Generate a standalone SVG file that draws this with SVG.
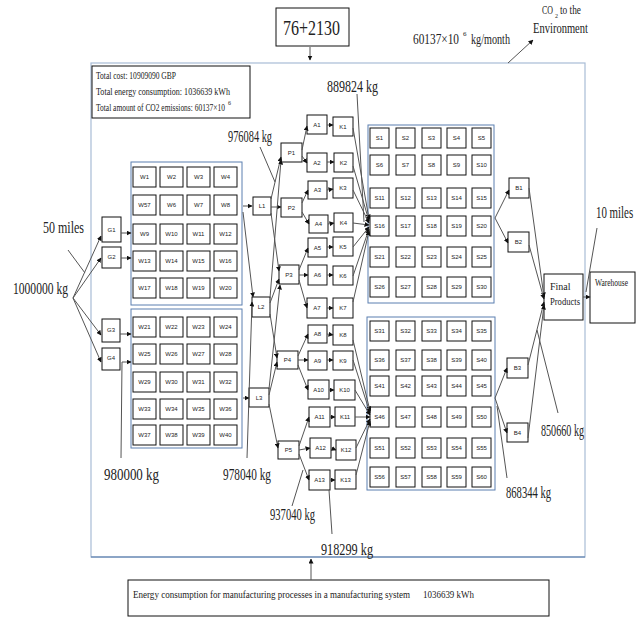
<svg xmlns="http://www.w3.org/2000/svg" width="641" height="618" viewBox="0 0 641 618">
<defs>
<marker id="ah" viewBox="0 0 10 10" refX="9" refY="5" markerWidth="5" markerHeight="5" orient="auto" markerUnits="userSpaceOnUse">
<path d="M0,0 L10,5 L0,10 z" fill="#111"/>
</marker>
</defs>
<style>
.n rect{fill:#fff;stroke:#111;stroke-width:1}
.n text{font-family:"Liberation Sans Narrow","Liberation Sans",Arial,sans-serif;font-size:6px;fill:#222;text-anchor:middle}
.grp{fill:none;stroke:#5b7fb0;stroke-width:1}
.main{fill:none;stroke:#a8bcd6;stroke-width:1.2}
.c line{stroke:#555;stroke-width:1;fill:none}
.c .a{marker-end:url(#ah)}
.lbl{font-family:"Liberation Serif","Times New Roman",serif;font-size:17px;fill:#222}
.sm{font-family:"Liberation Serif","Times New Roman",serif;font-size:9px;fill:#222}
.box{fill:#fff;stroke:#111;stroke-width:1}
</style>
<rect width="641" height="618" fill="#fff"/>
<rect class="main" x="91" y="63" width="494" height="494"/>
<line x1="91" y1="557" x2="585" y2="557" stroke="#4f74a6" stroke-width="1.2"/>

<g id="topbox"><rect class="box" x="276" y="8" width="73" height="38"/><text class="lbl" x="283" y="35" style="font-size:22px" textLength="57" lengthAdjust="spacingAndGlyphs">76+2130</text></g>

<g id="info"><rect class="box" x="92" y="66" width="158" height="52"/>
<text class="sm" x="96" y="79" style="font-size:10px" textLength="80" lengthAdjust="spacingAndGlyphs">Total cost: 10909090 GBP</text>
<text class="sm" x="96" y="95" style="font-size:10px" textLength="134" lengthAdjust="spacingAndGlyphs">Total energy consumption: 1036639 kWh</text>
<text class="sm" x="96" y="111" style="font-size:10px" textLength="129" lengthAdjust="spacingAndGlyphs">Total amount of CO2 emissions: 60137×10</text>
<text class="sm" x="228" y="105" style="font-size:6px">6</text>
</g>

<g id="energy"><rect class="box" x="128" y="580" width="421" height="36"/>
<text class="sm" x="133" y="598" style="font-size:10px" textLength="277" lengthAdjust="spacingAndGlyphs">Energy consumption for manufacturing processes in a manufacturing system</text>
<text class="sm" x="423" y="598" style="font-size:10px" textLength="51" lengthAdjust="spacingAndGlyphs">1036639 kWh</text>
</g>

<g id="env">
<text class="lbl" x="542" y="14" style="font-size:12px" textLength="11" lengthAdjust="spacingAndGlyphs">CO</text>
<text class="lbl" x="555" y="18" style="font-size:6px">2</text>
<text class="lbl" x="560" y="14" style="font-size:12px" textLength="21" lengthAdjust="spacingAndGlyphs">to the</text>
<text class="lbl" x="533" y="33" style="font-size:14px" textLength="55" lengthAdjust="spacingAndGlyphs">Environment</text></g>

<g id="labels">
<text class="lbl" x="413" y="44" style="font-size:14px" textLength="46" lengthAdjust="spacingAndGlyphs">60137×10</text>
<text class="lbl" x="463" y="36" style="font-size:7px">6</text>
<text class="lbl" x="471" y="44" style="font-size:14px" textLength="39" lengthAdjust="spacingAndGlyphs">kg/month</text>
<text class="lbl" x="228" y="142" textLength="44" lengthAdjust="spacingAndGlyphs">976084 kg</text>
<text class="lbl" x="327" y="92" textLength="51" lengthAdjust="spacingAndGlyphs">889824 kg</text>
<text class="lbl" x="43" y="233" textLength="41" lengthAdjust="spacingAndGlyphs">50 miles</text>
<text class="lbl" x="13" y="294" textLength="55" lengthAdjust="spacingAndGlyphs">1000000 kg</text>
<text class="lbl" x="104" y="480" textLength="55" lengthAdjust="spacingAndGlyphs">980000 kg</text>
<text class="lbl" x="223" y="480" textLength="48" lengthAdjust="spacingAndGlyphs">978040 kg</text>
<text class="lbl" x="270" y="520" textLength="45" lengthAdjust="spacingAndGlyphs">937040 kg</text>
<text class="lbl" x="321" y="555" textLength="52" lengthAdjust="spacingAndGlyphs">918299 kg</text>
<text class="lbl" x="541" y="436" textLength="43" lengthAdjust="spacingAndGlyphs">850660 kg</text>
<text class="lbl" x="506" y="498" textLength="45" lengthAdjust="spacingAndGlyphs">868344 kg</text>
<text class="lbl" transform="translate(596,218) scale(0.64,1)">10 miles</text>
</g>

<rect class="grp" x="131" y="162" width="111" height="143"/>
<rect class="grp" x="131" y="309" width="111" height="139"/>
<rect class="grp" x="368" y="125" width="126" height="178"/>
<rect class="grp" x="367" y="317" width="128" height="173"/>

<g class="n">
<g id="G1"><rect x="102" y="217" width="19" height="25"/><text x="111.5" y="232">G1</text></g>
<g id="G2"><rect x="102" y="247" width="19" height="21"/><text x="111.5" y="259">G2</text></g>
<g id="G3"><rect x="102" y="319" width="18" height="23"/><text x="111" y="332">G3</text></g>
<g id="G4"><rect x="102" y="348" width="18" height="22"/><text x="111" y="360">G4</text></g>

<g id="W1"><rect x="133" y="167" width="23" height="20"/><text x="144.5" y="179">W1</text></g>
<g id="W2"><rect x="160" y="167" width="23" height="20"/><text x="171.5" y="179">W2</text></g>
<g id="W3"><rect x="187" y="167" width="23" height="20"/><text x="198.5" y="179">W3</text></g>
<g id="W4"><rect x="214" y="167" width="23" height="20"/><text x="225.5" y="179">W4</text></g>
<g id="W57"><rect x="133" y="195" width="23" height="20"/><text x="144.5" y="207">W57</text></g>
<g id="W6"><rect x="160" y="195" width="23" height="20"/><text x="171.5" y="207">W6</text></g>
<g id="W7"><rect x="187" y="195" width="23" height="20"/><text x="198.5" y="207">W7</text></g>
<g id="W8"><rect x="214" y="195" width="23" height="20"/><text x="225.5" y="207">W8</text></g>
<g id="W9"><rect x="133" y="224" width="23" height="20"/><text x="144.5" y="236">W9</text></g>
<g id="W10"><rect x="160" y="224" width="23" height="20"/><text x="171.5" y="236">W10</text></g>
<g id="W11"><rect x="187" y="224" width="23" height="20"/><text x="198.5" y="236">W11</text></g>
<g id="W12"><rect x="214" y="224" width="23" height="20"/><text x="225.5" y="236">W12</text></g>
<g id="W13"><rect x="133" y="251" width="23" height="20"/><text x="144.5" y="263">W13</text></g>
<g id="W14"><rect x="160" y="251" width="23" height="20"/><text x="171.5" y="263">W14</text></g>
<g id="W15"><rect x="187" y="251" width="23" height="20"/><text x="198.5" y="263">W15</text></g>
<g id="W16"><rect x="214" y="251" width="23" height="20"/><text x="225.5" y="263">W16</text></g>
<g id="W17"><rect x="133" y="278" width="23" height="20"/><text x="144.5" y="290">W17</text></g>
<g id="W18"><rect x="160" y="278" width="23" height="20"/><text x="171.5" y="290">W18</text></g>
<g id="W19"><rect x="187" y="278" width="23" height="20"/><text x="198.5" y="290">W19</text></g>
<g id="W20"><rect x="214" y="278" width="23" height="20"/><text x="225.5" y="290">W20</text></g>

<g id="W21"><rect x="133" y="317" width="23" height="20"/><text x="144.5" y="329">W21</text></g>
<g id="W22"><rect x="160" y="317" width="23" height="20"/><text x="171.5" y="329">W22</text></g>
<g id="W23"><rect x="187" y="317" width="23" height="20"/><text x="198.5" y="329">W23</text></g>
<g id="W24"><rect x="214" y="317" width="23" height="20"/><text x="225.5" y="329">W24</text></g>
<g id="W25"><rect x="133" y="344" width="23" height="20"/><text x="144.5" y="356">W25</text></g>
<g id="W26"><rect x="160" y="344" width="23" height="20"/><text x="171.5" y="356">W26</text></g>
<g id="W27"><rect x="187" y="344" width="23" height="20"/><text x="198.5" y="356">W27</text></g>
<g id="W28"><rect x="214" y="344" width="23" height="20"/><text x="225.5" y="356">W28</text></g>
<g id="W29"><rect x="133" y="372" width="23" height="20"/><text x="144.5" y="384">W29</text></g>
<g id="W30"><rect x="160" y="372" width="23" height="20"/><text x="171.5" y="384">W30</text></g>
<g id="W31"><rect x="187" y="372" width="23" height="20"/><text x="198.5" y="384">W31</text></g>
<g id="W32"><rect x="214" y="372" width="23" height="20"/><text x="225.5" y="384">W32</text></g>
<g id="W33"><rect x="133" y="399" width="23" height="20"/><text x="144.5" y="411">W33</text></g>
<g id="W34"><rect x="160" y="399" width="23" height="20"/><text x="171.5" y="411">W34</text></g>
<g id="W35"><rect x="187" y="399" width="23" height="20"/><text x="198.5" y="411">W35</text></g>
<g id="W36"><rect x="214" y="399" width="23" height="20"/><text x="225.5" y="411">W36</text></g>
<g id="W37"><rect x="133" y="425" width="23" height="20"/><text x="144.5" y="437">W37</text></g>
<g id="W38"><rect x="160" y="425" width="23" height="20"/><text x="171.5" y="437">W38</text></g>
<g id="W39"><rect x="187" y="425" width="23" height="20"/><text x="198.5" y="437">W39</text></g>
<g id="W40"><rect x="214" y="425" width="23" height="20"/><text x="225.5" y="437">W40</text></g>

<g id="L1"><rect x="253" y="197" width="18" height="18"/><text x="262" y="208">L1</text></g>
<g id="L2"><rect x="252" y="297" width="18" height="20"/><text x="261" y="309">L2</text></g>
<g id="L3"><rect x="249" y="388" width="20" height="19"/><text x="259" y="400">L3</text></g>

<g id="P1"><rect x="281" y="143" width="21" height="19"/><text x="291.5" y="155">P1</text></g>
<g id="P2"><rect x="281" y="198" width="21" height="19"/><text x="291.5" y="210">P2</text></g>
<g id="P3"><rect x="279" y="265" width="20" height="19"/><text x="289" y="277">P3</text></g>
<g id="P4"><rect x="277" y="351" width="21" height="18"/><text x="287.5" y="362">P4</text></g>
<g id="P5"><rect x="278" y="441" width="21" height="18"/><text x="288.5" y="452">P5</text></g>

<g id="A1"><rect x="307" y="115" width="20" height="19"/><text x="317" y="127">A1</text></g>
<g id="A2"><rect x="307" y="153" width="20" height="19"/><text x="317" y="165">A2</text></g>
<g id="A3"><rect x="308" y="181" width="19" height="18"/><text x="317.5" y="192">A3</text></g>
<g id="A4"><rect x="309" y="215" width="19" height="18"/><text x="318.5" y="226">A4</text></g>
<g id="A5"><rect x="308" y="238" width="19" height="19"/><text x="317.5" y="250">A5</text></g>
<g id="A6"><rect x="308" y="265" width="19" height="20"/><text x="317.5" y="277">A6</text></g>
<g id="A7"><rect x="307" y="298" width="20" height="20"/><text x="317" y="310">A7</text></g>
<g id="A8"><rect x="308" y="325" width="19" height="18"/><text x="317.5" y="336">A8</text></g>
<g id="A9"><rect x="308" y="351" width="19" height="19"/><text x="317.5" y="363">A9</text></g>
<g id="A10"><rect x="308" y="380" width="21" height="19"/><text x="318.5" y="392">A10</text></g>
<g id="A11"><rect x="309" y="407" width="21" height="20"/><text x="319.5" y="419">A11</text></g>
<g id="A12"><rect x="310" y="438" width="21" height="20"/><text x="320.5" y="450">A12</text></g>
<g id="A13"><rect x="309" y="470" width="21" height="20"/><text x="319.5" y="482">A13</text></g>

<g id="K1"><rect x="333" y="117" width="20" height="19"/><text x="343" y="129">K1</text></g>
<g id="K2"><rect x="334" y="153" width="19" height="19"/><text x="343.5" y="165">K2</text></g>
<g id="K3"><rect x="333" y="178" width="20" height="20"/><text x="343" y="190">K3</text></g>
<g id="K4"><rect x="334" y="213" width="19" height="19"/><text x="343.5" y="225">K4</text></g>
<g id="K5"><rect x="333" y="237" width="20" height="19"/><text x="343" y="249">K5</text></g>
<g id="K6"><rect x="333" y="266" width="20" height="19"/><text x="343" y="278">K6</text></g>
<g id="K7"><rect x="333" y="298" width="20" height="20"/><text x="343" y="310">K7</text></g>
<g id="K8"><rect x="333" y="325" width="20" height="20"/><text x="343" y="337">K8</text></g>
<g id="K9"><rect x="333" y="351" width="20" height="19"/><text x="343" y="363">K9</text></g>
<g id="K10"><rect x="334" y="380" width="21" height="20"/><text x="344.5" y="392">K10</text></g>
<g id="K11"><rect x="335" y="407" width="20" height="19"/><text x="345" y="419">K11</text></g>
<g id="K12"><rect x="336" y="440" width="20" height="20"/><text x="346" y="452">K12</text></g>
<g id="K13"><rect x="335" y="470" width="21" height="19"/><text x="345.5" y="482">K13</text></g>

<g id="S1"><rect x="370" y="128" width="19" height="20"/><text x="379.5" y="140">S1</text></g>
<g id="S2"><rect x="396" y="128" width="19" height="20"/><text x="405.5" y="140">S2</text></g>
<g id="S3"><rect x="422" y="128" width="19" height="20"/><text x="431.5" y="140">S3</text></g>
<g id="S4"><rect x="447" y="128" width="19" height="20"/><text x="456.5" y="140">S4</text></g>
<g id="S5"><rect x="472" y="128" width="19" height="20"/><text x="481.5" y="140">S5</text></g>
<g id="S6"><rect x="370" y="155" width="19" height="20"/><text x="379.5" y="167">S6</text></g>
<g id="S7"><rect x="396" y="155" width="19" height="20"/><text x="405.5" y="167">S7</text></g>
<g id="S8"><rect x="422" y="155" width="19" height="20"/><text x="431.5" y="167">S8</text></g>
<g id="S9"><rect x="447" y="155" width="19" height="20"/><text x="456.5" y="167">S9</text></g>
<g id="S10"><rect x="472" y="155" width="19" height="20"/><text x="481.5" y="167">S10</text></g>
<g id="S11"><rect x="370" y="188" width="19" height="20"/><text x="379.5" y="200">S11</text></g>
<g id="S12"><rect x="396" y="188" width="19" height="20"/><text x="405.5" y="200">S12</text></g>
<g id="S13"><rect x="422" y="188" width="19" height="20"/><text x="431.5" y="200">S13</text></g>
<g id="S14"><rect x="447" y="188" width="19" height="20"/><text x="456.5" y="200">S14</text></g>
<g id="S15"><rect x="472" y="188" width="19" height="20"/><text x="481.5" y="200">S15</text></g>
<g id="S16"><rect x="370" y="216" width="19" height="20"/><text x="379.5" y="228">S16</text></g>
<g id="S17"><rect x="396" y="216" width="19" height="20"/><text x="405.5" y="228">S17</text></g>
<g id="S18"><rect x="422" y="216" width="19" height="20"/><text x="431.5" y="228">S18</text></g>
<g id="S19"><rect x="447" y="216" width="19" height="20"/><text x="456.5" y="228">S19</text></g>
<g id="S20"><rect x="472" y="216" width="19" height="20"/><text x="481.5" y="228">S20</text></g>
<g id="S21"><rect x="370" y="247" width="19" height="20"/><text x="379.5" y="259">S21</text></g>
<g id="S22"><rect x="396" y="247" width="19" height="20"/><text x="405.5" y="259">S22</text></g>
<g id="S23"><rect x="422" y="247" width="19" height="20"/><text x="431.5" y="259">S23</text></g>
<g id="S24"><rect x="447" y="247" width="19" height="20"/><text x="456.5" y="259">S24</text></g>
<g id="S25"><rect x="472" y="247" width="19" height="20"/><text x="481.5" y="259">S25</text></g>
<g id="S26"><rect x="370" y="277" width="19" height="20"/><text x="379.5" y="289">S26</text></g>
<g id="S27"><rect x="396" y="277" width="19" height="20"/><text x="405.5" y="289">S27</text></g>
<g id="S28"><rect x="422" y="277" width="19" height="20"/><text x="431.5" y="289">S28</text></g>
<g id="S29"><rect x="447" y="277" width="19" height="20"/><text x="456.5" y="289">S29</text></g>
<g id="S30"><rect x="472" y="277" width="19" height="20"/><text x="481.5" y="289">S30</text></g>

<g id="S31"><rect x="370" y="321" width="19" height="20"/><text x="379.5" y="333">S31</text></g>
<g id="S32"><rect x="396" y="321" width="19" height="20"/><text x="405.5" y="333">S32</text></g>
<g id="S33"><rect x="422" y="321" width="19" height="20"/><text x="431.5" y="333">S33</text></g>
<g id="S34"><rect x="447" y="321" width="19" height="20"/><text x="456.5" y="333">S34</text></g>
<g id="S35"><rect x="472" y="321" width="19" height="20"/><text x="481.5" y="333">S35</text></g>
<g id="S36"><rect x="370" y="350" width="19" height="20"/><text x="379.5" y="362">S36</text></g>
<g id="S37"><rect x="396" y="350" width="19" height="20"/><text x="405.5" y="362">S37</text></g>
<g id="S38"><rect x="422" y="350" width="19" height="20"/><text x="431.5" y="362">S38</text></g>
<g id="S39"><rect x="447" y="350" width="19" height="20"/><text x="456.5" y="362">S39</text></g>
<g id="S40"><rect x="472" y="350" width="19" height="20"/><text x="481.5" y="362">S40</text></g>
<g id="S41"><rect x="370" y="376" width="19" height="20"/><text x="379.5" y="388">S41</text></g>
<g id="S42"><rect x="396" y="376" width="19" height="20"/><text x="405.5" y="388">S42</text></g>
<g id="S43"><rect x="422" y="376" width="19" height="20"/><text x="431.5" y="388">S43</text></g>
<g id="S44"><rect x="447" y="376" width="19" height="20"/><text x="456.5" y="388">S44</text></g>
<g id="S45"><rect x="472" y="376" width="19" height="20"/><text x="481.5" y="388">S45</text></g>
<g id="S46"><rect x="370" y="407" width="19" height="20"/><text x="379.5" y="419">S46</text></g>
<g id="S47"><rect x="396" y="407" width="19" height="20"/><text x="405.5" y="419">S47</text></g>
<g id="S48"><rect x="422" y="407" width="19" height="20"/><text x="431.5" y="419">S48</text></g>
<g id="S49"><rect x="447" y="407" width="19" height="20"/><text x="456.5" y="419">S49</text></g>
<g id="S50"><rect x="472" y="407" width="19" height="20"/><text x="481.5" y="419">S50</text></g>
<g id="S51"><rect x="370" y="438" width="19" height="20"/><text x="379.5" y="450">S51</text></g>
<g id="S52"><rect x="396" y="438" width="19" height="20"/><text x="405.5" y="450">S52</text></g>
<g id="S53"><rect x="422" y="438" width="19" height="20"/><text x="431.5" y="450">S53</text></g>
<g id="S54"><rect x="447" y="438" width="19" height="20"/><text x="456.5" y="450">S54</text></g>
<g id="S55"><rect x="472" y="438" width="19" height="20"/><text x="481.5" y="450">S55</text></g>
<g id="S56"><rect x="370" y="467" width="19" height="20"/><text x="379.5" y="479">S56</text></g>
<g id="S57"><rect x="396" y="467" width="19" height="20"/><text x="405.5" y="479">S57</text></g>
<g id="S58"><rect x="422" y="467" width="19" height="20"/><text x="431.5" y="479">S58</text></g>
<g id="S59"><rect x="447" y="467" width="19" height="20"/><text x="456.5" y="479">S59</text></g>
<g id="S60"><rect x="472" y="467" width="19" height="20"/><text x="481.5" y="479">S60</text></g>

<g id="B1"><rect x="509" y="178" width="20" height="20"/><text x="519" y="190">B1</text></g>
<g id="B2"><rect x="508" y="232" width="21" height="20"/><text x="518.5" y="244">B2</text></g>
<g id="B3"><rect x="507" y="358" width="21" height="20"/><text x="517.5" y="370">B3</text></g>
<g id="B4"><rect x="507" y="423" width="21" height="19"/><text x="517.5" y="435">B4</text></g>
</g>

<g id="final"><rect class="box" x="544" y="274" width="39" height="46"/><text class="sm" x="550" y="290" style="font-size:10px">Final</text><text class="sm" x="550" y="305" style="font-size:10px" textLength="30" lengthAdjust="spacingAndGlyphs">Products</text></g>
<g id="warehouse"><rect class="box" x="590" y="272" width="45" height="51"/><text class="sm" x="595" y="286" style="font-size:10px" textLength="33" lengthAdjust="spacingAndGlyphs">Warehouse</text></g>

<g class="c" id="connectors">
<line class="a" x1="310" y1="47" x2="310" y2="60"/>
<line class="a" x1="508" y1="63" x2="533" y2="40"/>
<line class="a" x1="311" y1="580" x2="311" y2="559"/>
<line x1="68" y1="250" x2="85" y2="273"/>
<line class="a" x1="73" y1="298" x2="101" y2="236"/>
<line class="a" x1="73" y1="298" x2="101" y2="258"/>
<line class="a" x1="73" y1="298" x2="101" y2="335"/>
<line class="a" x1="73" y1="298" x2="101" y2="362"/>
<line class="a" x1="121" y1="233" x2="131" y2="233"/>
<line class="a" x1="121" y1="258" x2="131" y2="258"/>
<line class="a" x1="120" y1="334" x2="131" y2="334"/>
<line class="a" x1="122" y1="362" x2="131" y2="362"/>
<line x1="122" y1="362" x2="121" y2="458"/>
<line class="a" x1="243" y1="206" x2="252" y2="206"/>
<line class="a" x1="243" y1="212" x2="253" y2="297"/>
<line class="a" x1="247" y1="458" x2="252" y2="302"/>
<line class="a" x1="243" y1="398" x2="249" y2="398"/>
<line x1="260" y1="147" x2="275" y2="182"/>
<line class="a" x1="271" y1="199" x2="281" y2="157"/>
<line class="a" x1="271" y1="207" x2="281" y2="207"/>
<line class="a" x1="271" y1="213" x2="279" y2="271"/>
<line class="a" x1="270" y1="298" x2="281" y2="160"/>
<line class="a" x1="270" y1="303" x2="279" y2="279"/>
<line class="a" x1="270" y1="314" x2="277" y2="358"/>
<line class="a" x1="269" y1="389" x2="280" y2="285"/>
<line class="a" x1="269" y1="395" x2="277" y2="362"/>
<line class="a" x1="269" y1="404" x2="278" y2="448"/>
<line class="a" x1="302" y1="150" x2="307" y2="126"/>
<line class="a" x1="302" y1="156" x2="307" y2="163"/>
<line class="a" x1="302" y1="203" x2="308" y2="190"/>
<line class="a" x1="302" y1="212" x2="309" y2="224"/>
<line class="a" x1="299" y1="270" x2="308" y2="248"/>
<line class="a" x1="299" y1="275" x2="308" y2="275"/>
<line class="a" x1="299" y1="280" x2="307" y2="308"/>
<line class="a" x1="298" y1="356" x2="308" y2="334"/>
<line class="a" x1="298" y1="360" x2="308" y2="360"/>
<line class="a" x1="298" y1="365" x2="308" y2="390"/>
<line class="a" x1="299" y1="446" x2="309" y2="417"/>
<line class="a" x1="299" y1="450" x2="310" y2="448"/>
<line class="a" x1="299" y1="454" x2="309" y2="480"/>
<line class="a" x1="327" y1="125" x2="333" y2="125"/>
<line class="a" x1="327" y1="162" x2="334" y2="162"/>
<line class="a" x1="327" y1="190" x2="333" y2="189"/>
<line class="a" x1="328" y1="224" x2="334" y2="223"/>
<line class="a" x1="327" y1="247" x2="333" y2="247"/>
<line class="a" x1="327" y1="275" x2="333" y2="275"/>
<line class="a" x1="327" y1="308" x2="333" y2="308"/>
<line class="a" x1="327" y1="334" x2="333" y2="335"/>
<line class="a" x1="327" y1="360" x2="333" y2="360"/>
<line class="a" x1="329" y1="390" x2="334" y2="390"/>
<line class="a" x1="330" y1="417" x2="335" y2="417"/>
<line class="a" x1="331" y1="448" x2="336" y2="450"/>
<line class="a" x1="330" y1="480" x2="335" y2="480"/>
<line class="a" x1="353" y1="128" x2="369" y2="219"/>
<line class="a" x1="353" y1="166" x2="369" y2="221"/>
<line class="a" x1="353" y1="190" x2="369" y2="223"/>
<line class="a" x1="353" y1="223" x2="369" y2="225"/>
<line class="a" x1="353" y1="247" x2="369" y2="227"/>
<line class="a" x1="353" y1="276" x2="369" y2="229"/>
<line class="a" x1="353" y1="302" x2="369" y2="231"/>
<line x1="357" y1="94" x2="364" y2="222"/>
<line class="a" x1="353" y1="340" x2="370" y2="411"/>
<line class="a" x1="353" y1="360" x2="370" y2="413"/>
<line class="a" x1="355" y1="390" x2="370" y2="415"/>
<line class="a" x1="355" y1="417" x2="370" y2="417"/>
<line class="a" x1="356" y1="448" x2="370" y2="419"/>
<line class="a" x1="356" y1="475" x2="370" y2="421"/>
<line x1="292" y1="506" x2="303" y2="470"/>
<line x1="329" y1="490" x2="332" y2="534"/>
<line class="a" x1="495" y1="218" x2="509" y2="190"/>
<line class="a" x1="495" y1="218" x2="508" y2="243"/>
<line class="a" x1="495" y1="398" x2="507" y2="368"/>
<line class="a" x1="495" y1="398" x2="507" y2="433"/>
<line class="a" x1="529" y1="188" x2="544" y2="297"/>
<line class="a" x1="529" y1="245" x2="544" y2="299"/>
<line class="a" x1="528" y1="365" x2="544" y2="302"/>
<line class="a" x1="528" y1="438" x2="544" y2="305"/>
<line x1="537" y1="330" x2="558" y2="413"/>
<line x1="497" y1="406" x2="507" y2="478"/>
<line class="a" x1="583" y1="297" x2="590" y2="297"/>
<line x1="597" y1="228" x2="586" y2="292"/>
</g>
</svg>
